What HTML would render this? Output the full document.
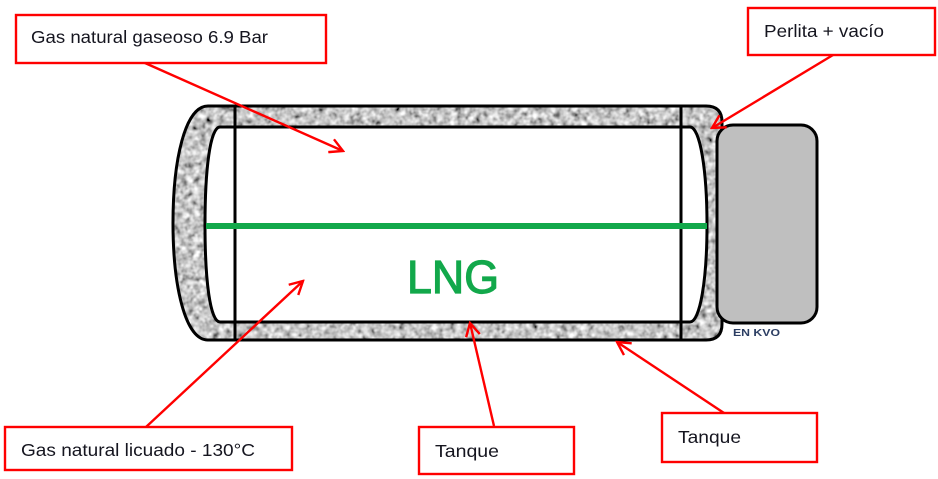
<!DOCTYPE html>
<html>
<head>
<meta charset="utf-8">
<style>
html,body{margin:0;padding:0;background:#fff;}
svg{display:block;}
</style>
</head>
<body>
<svg width="938" height="479" viewBox="0 0 938 479" xmlns="http://www.w3.org/2000/svg">
  <defs>
    <filter id="granite" x="0" y="0" width="100%" height="100%" filterUnits="userSpaceOnUse">
      <feTurbulence type="fractalNoise" baseFrequency="0.16" numOctaves="2" seed="7" result="t"/>
      <feColorMatrix in="t" type="matrix" values="0.33 0.33 0.33 0 0  0.33 0.33 0.33 0 0  0.33 0.33 0.33 0 0  0 0 0 0 1" result="g"/>
      <feComponentTransfer in="g">
        <feFuncR type="linear" slope="2.4" intercept="-0.62"/>
        <feFuncG type="linear" slope="2.4" intercept="-0.62"/>
        <feFuncB type="linear" slope="2.4" intercept="-0.62"/>
      </feComponentTransfer>
    </filter>
    <clipPath id="outerClip">
      <path d="M208 106 L706 106 Q722 106 722 122 L722 324 Q722 340 706 340 L208 340 C185 340 173 286 173 223 C173 160 185 106 208 106 Z"/>
    </clipPath>
    <marker id="arr" viewBox="0 0 16 16" refX="14" refY="8" markerWidth="16" markerHeight="16" markerUnits="userSpaceOnUse" orient="auto">
      <path d="M1 1 L14 8 L1 15" fill="none" stroke="#ff0000" stroke-width="2.4"/>
    </marker>
  </defs>

  <!-- outer jacket with granite texture -->
  <g clip-path="url(#outerClip)">
    <rect x="160" y="100" width="570" height="250" fill="#a0a0a0"/>
    <rect x="160" y="100" width="570" height="250" filter="url(#granite)"/>
  </g>
  <path d="M208 106 L706 106 Q722 106 722 122 L722 324 Q722 340 706 340 L208 340 C185 340 173 286 173 223 C173 160 185 106 208 106 Z" fill="none" stroke="#000" stroke-width="3"/>

  <!-- inner vessel -->
  <path d="M220 127 L690 127 C700 127 707 170 707 225 C707 280 700 322 690 322 L220 322 C210 322 205 280 205 225 C205 170 210 127 220 127 Z" fill="#fff" stroke="#000" stroke-width="3"/>

  <!-- vertical lines -->
  <line x1="235" y1="105" x2="235" y2="341" stroke="#000" stroke-width="3"/>
  <line x1="681" y1="105" x2="681" y2="341" stroke="#000" stroke-width="3"/>

  <!-- green level line -->
  <line x1="206" y1="226" x2="707" y2="226" stroke="#12a84b" stroke-width="6"/>

  <!-- LNG label -->
  <text x="407" y="293" font-family="Liberation Sans, Arial, sans-serif" font-size="46" fill="#12a84b" stroke="#12a84b" stroke-width="1.2" textLength="92" lengthAdjust="spacingAndGlyphs">LNG</text>

  <!-- gray box -->
  <rect x="717" y="125" width="100" height="198" rx="16" ry="16" fill="#bfbfbf" stroke="#000" stroke-width="3"/>

  <!-- EN KVO -->
  <text x="733" y="336" font-family="Liberation Sans, Arial, sans-serif" font-size="10.5" font-weight="bold" fill="#2c3e63" textLength="47" lengthAdjust="spacingAndGlyphs">EN KVO</text>

  <!-- arrows -->
  <g stroke="#ff0000" stroke-width="2.4" fill="none">
    <line x1="145" y1="63" x2="343" y2="151" marker-end="url(#arr)"/>
    <line x1="833" y1="55" x2="712" y2="128" marker-end="url(#arr)"/>
    <line x1="146" y1="427" x2="303" y2="281" marker-end="url(#arr)"/>
    <line x1="494" y1="426" x2="470" y2="323" marker-end="url(#arr)"/>
    <line x1="724" y1="413" x2="617" y2="342" marker-end="url(#arr)"/>
  </g>

  <!-- label boxes -->
  <g fill="#fff" stroke="#ff0000" stroke-width="2.4">
    <rect x="16" y="15" width="310" height="48"/>
    <rect x="748" y="8" width="187" height="47"/>
    <rect x="5" y="427" width="287" height="43"/>
    <rect x="419" y="427" width="155" height="47"/>
    <rect x="662" y="413" width="155" height="49"/>
  </g>

  <g font-family="Liberation Sans, Arial, sans-serif" font-size="17.5" fill="#15151f">
    <text x="31" y="43" textLength="237" lengthAdjust="spacingAndGlyphs">Gas natural gaseoso 6.9 Bar</text>
    <text x="764" y="37" textLength="120" lengthAdjust="spacingAndGlyphs">Perlita + vacío</text>
    <text x="21" y="456" textLength="234" lengthAdjust="spacingAndGlyphs">Gas natural licuado - 130°C</text>
    <text x="435" y="457" textLength="64" lengthAdjust="spacingAndGlyphs">Tanque</text>
    <text x="678" y="443" textLength="63" lengthAdjust="spacingAndGlyphs">Tanque</text>
  </g>
</svg>
</body>
</html>
